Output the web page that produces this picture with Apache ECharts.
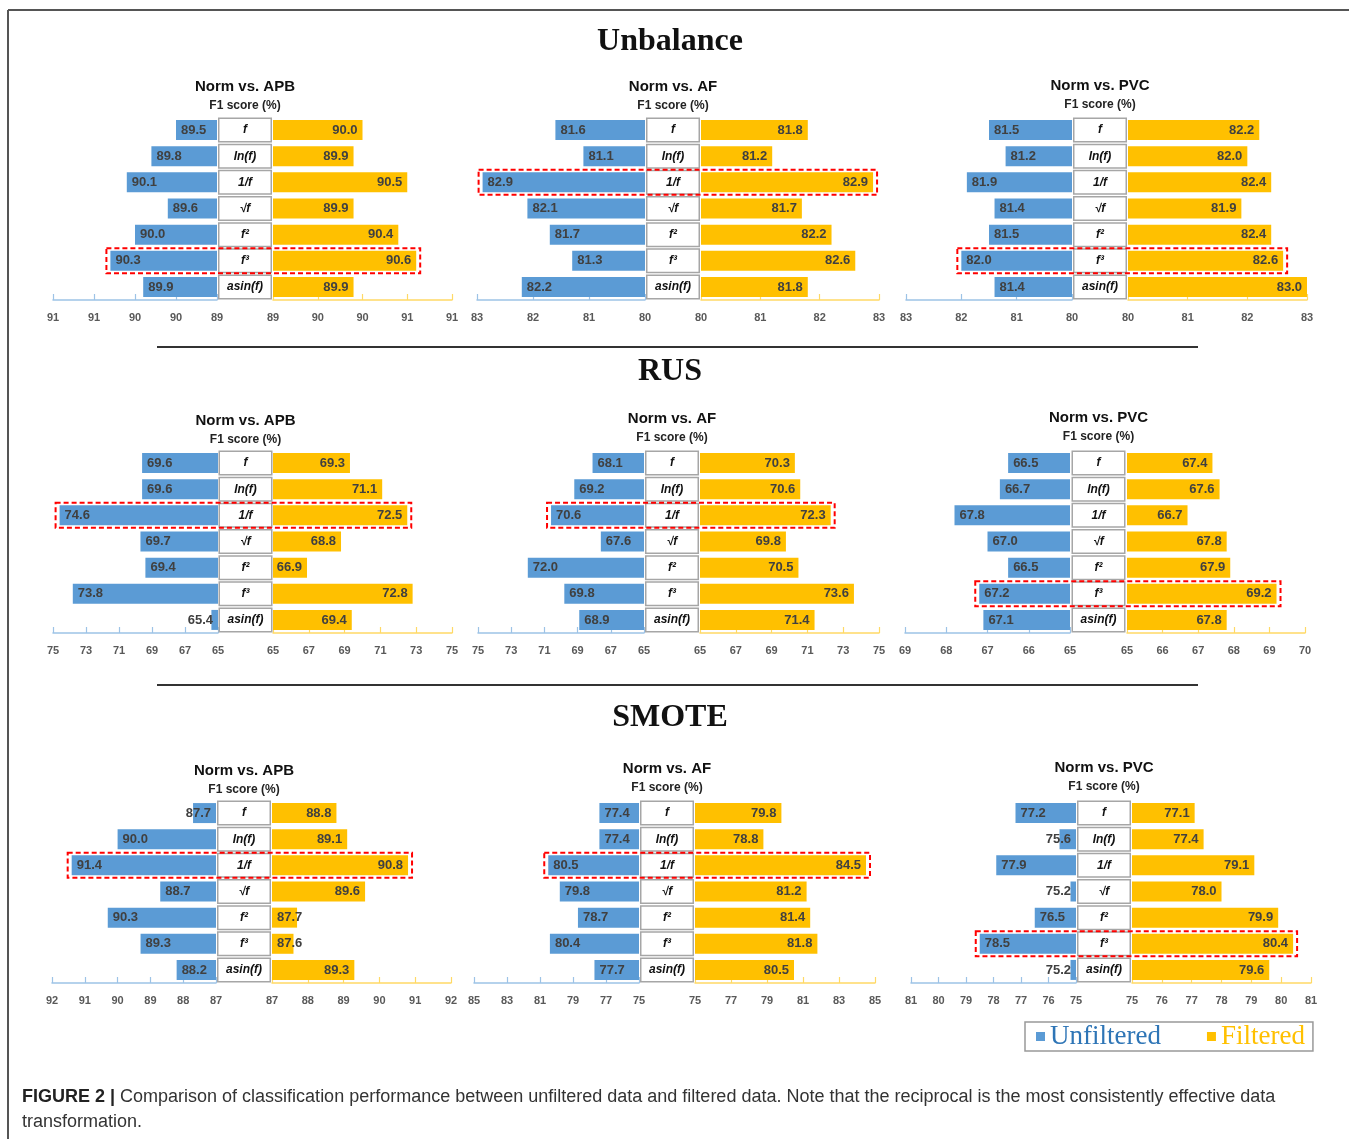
<!DOCTYPE html>
<html>
<head>
<meta charset="utf-8">
<title>Unfiltered vs Filtered F1 score</title>
<script src="https://cdn.jsdelivr.net/npm/echarts@6/dist/echarts.min.js"></script>
<style>
  html, body { margin: 0; padding: 0; background: #fff; }
  #chart { width: 1349px; height: 1139px; }
</style>
</head>
<body>
<div id="chart"></div>
<script>
// categories, top to bottom
const categories = ['f', 'ln(f)', '1/f', '√f', 'f²', 'f³', 'asin(f)'];
const panelTitles = ['Norm vs. APB', 'Norm vs. AF', 'Norm vs. PVC'];
const sectionTitles = ['Unbalance', 'RUS', 'SMOTE'];

// Unbalance
const unbApbU = [89.5, 89.8, 90.1, 89.6, 90.0, 90.3, 89.9];
const unbApbF = [90.0, 89.9, 90.5, 89.9, 90.4, 90.6, 89.9];
const unbAfU  = [81.6, 81.1, 82.9, 82.1, 81.7, 81.3, 82.2];
const unbAfF  = [81.8, 81.2, 82.9, 81.7, 82.2, 82.6, 81.8];
const unbPvcU = [81.5, 81.2, 81.9, 81.4, 81.5, 82.0, 81.4];
const unbPvcF = [82.2, 82.0, 82.4, 81.9, 82.4, 82.6, 83.0];
// RUS
const rusApbU = [69.6, 69.6, 74.6, 69.7, 69.4, 73.8, 65.4];
const rusApbF = [69.3, 71.1, 72.5, 68.8, 66.9, 72.8, 69.4];
const rusAfU  = [68.1, 69.2, 70.6, 67.6, 72.0, 69.8, 68.9];
const rusAfF  = [70.3, 70.6, 72.3, 69.8, 70.5, 73.6, 71.4];
const rusPvcU = [66.5, 66.7, 67.8, 67.0, 66.5, 67.2, 67.1];
const rusPvcF = [67.4, 67.6, 66.7, 67.8, 67.9, 69.2, 67.8];
// SMOTE
const smoApbU = [87.7, 90.0, 91.4, 88.7, 90.3, 89.3, 88.2];
const smoApbF = [88.8, 89.1, 90.8, 89.6, 87.7, 87.6, 89.3];
const smoAfU  = [77.4, 77.4, 80.5, 79.8, 78.7, 80.4, 77.7];
const smoAfF  = [79.8, 78.8, 84.5, 81.2, 81.4, 81.8, 80.5];
const smoPvcU = [77.2, 75.6, 77.9, 75.2, 76.5, 78.5, 75.2];
const smoPvcF = [77.1, 77.4, 79.1, 78.0, 79.9, 80.4, 79.6];

// axis ticks [min, max, interval]
const unbAxisL = [[89, 91, 0.5], [80, 83, 1], [80, 83, 1]];
const unbAxisR = [[89, 91, 0.5], [80, 83, 1], [80, 83, 1]];
const rusAxisL = [[65, 75, 2], [65, 75, 2], [65, 69, 1]];
const rusAxisR = [[65, 75, 2], [65, 75, 2], [65, 70, 1]];
const smoAxisL = [[87, 92, 1], [75, 85, 2], [75, 81, 1]];
const smoAxisR = [[87, 92, 1], [75, 85, 2], [75, 81, 1]];

// highlighted (red dashed) row per panel
const unbHighlight = [5, 2, 5];
const rusHighlight = [2, 2, 5];
const smoHighlight = [2, 2, 5];

const sections = [
  { u: [unbApbU, unbAfU, unbPvcU], f: [unbApbF, unbAfF, unbPvcF], axL: unbAxisL, axR: unbAxisR, hl: unbHighlight },
  { u: [rusApbU, rusAfU, rusPvcU], f: [rusApbF, rusAfF, rusPvcF], axL: rusAxisL, axR: rusAxisR, hl: rusHighlight },
  { u: [smoApbU, smoAfU, smoPvcU], f: [smoApbF, smoAfF, smoPvcF], axL: smoAxisL, axR: smoAxisR, hl: smoHighlight }
];

// layout: [leftGridL, leftGridR, rightGridL, rightGridR] per section / column
const colEdges = [
  [[53, 217, 273, 452], [477, 645, 701, 879], [906, 1072, 1128, 1307]],
  [[53, 218, 273, 452], [478, 644, 700, 879], [905, 1070, 1127, 1305]],
  [[52, 216, 272, 451], [474, 639, 695, 875], [911, 1076, 1132, 1311]]
];
const axisLineY = [300, 633, 983];
const panelTitleY = [[87, 87, 86], [421, 419, 418], [771, 769, 768]];
const sectionTitleY = [42, 372, 718];
const gridH = 183;

const BLUE = '#5B9BD5';
const GOLD = '#FFC000';
const FONT = 'Liberation Sans';

const chart = echarts.init(document.getElementById('chart'));

let grids = [], xAxes = [], yAxes = [], series = [], graphics = [];

function labelPos(v, ax, w, side) {
  const px = (v - ax[0]) / (ax[1] - ax[0]) * w;
  const short = px < 34;
  if (side === 'L') return short ? 'insideRight' : 'insideLeft';
  return short ? 'insideLeft' : 'insideRight';
}

function xAxisOf(g, ax, inverse, color) {
  return {
    type: 'value', gridIndex: g, inverse: inverse,
    min: ax[0], max: ax[1], interval: ax[2],
    axisLine: { show: true, lineStyle: { color: color, width: 1.5 } },
    axisTick: { show: true, inside: true, length: 6, lineStyle: { color: color, width: 1.2 } },
    splitLine: { show: false },
    axisLabel: {
      margin: 12, color: '#595959', fontWeight: 'bold', fontSize: 11, fontFamily: FONT,
      formatter: v => String(Math.round(v))
    }
  };
}

sections.forEach((sec, s) => {
  for (let c = 0; c < 3; c++) {
    const p = s * 3 + c;
    const [lL, lR, rL, rR] = colEdges[s][c];
    const top = axisLineY[s] - gridH;
    const gL = 2 * p, gR = 2 * p + 1;
    grids.push({ left: lL, top: top, width: lR - lL, height: gridH });
    grids.push({ left: rL, top: top, width: rR - rL, height: gridH });

    xAxes.push(xAxisOf(gL, sec.axL[c], true, '#9DC3E6'));
    xAxes.push(xAxisOf(gR, sec.axR[c], false, '#FFD966'));

    yAxes.push({
      type: 'category', gridIndex: gL, data: categories, inverse: true,
      axisLine: { show: false }, axisTick: { show: false }, axisLabel: { show: false }
    });
    yAxes.push({
      type: 'category', gridIndex: gR, data: categories, inverse: true,
      axisLine: { show: false }, axisTick: { show: false },
      axisLabel: {
        show: true, interval: 0, align: 'center', margin: (rL - lR) / 2,
        width: 51, height: 22, lineHeight: 22, padding: 0,
        backgroundColor: '#fff', borderColor: '#A6A6A6', borderWidth: 1.5,
        fontStyle: 'italic', fontWeight: 'bold', fontSize: 12, color: '#111', fontFamily: FONT
      }
    });

    const labelBase = {
      show: true, fontWeight: 'bold', fontSize: 13, color: '#404040', fontFamily: FONT,
      formatter: d => d.value.toFixed(1)
    };
    series.push({
      name: 'Unfiltered', type: 'bar', xAxisIndex: gL, yAxisIndex: gL, barWidth: 20,
      itemStyle: { color: BLUE }, label: labelBase, silent: true,
      data: sec.u[c].map(v => ({ value: v, label: { position: labelPos(v, sec.axL[c], lR - lL, 'L') } }))
    });
    series.push({
      name: 'Filtered', type: 'bar', xAxisIndex: gR, yAxisIndex: gR, barWidth: 20,
      itemStyle: { color: GOLD }, label: labelBase, silent: true,
      data: sec.f[c].map(v => ({ value: v, label: { position: labelPos(v, sec.axR[c], rR - rL, 'R') } }))
    });

    // panel titles
    const cx = (lR + rL) / 2;
    graphics.push({
      type: 'text', id: 'pt' + p, x: cx, y: panelTitleY[s][c],
      style: { text: panelTitles[c], font: 'bold 15px ' + FONT, fill: '#111', textAlign: 'center', textVerticalAlign: 'middle' }
    });
    graphics.push({
      type: 'text', id: 'ps' + p, x: cx, y: panelTitleY[s][c] + 19,
      style: { text: 'F1 score (%)', font: 'bold 12px ' + FONT, fill: '#222', textAlign: 'center', textVerticalAlign: 'middle' }
    });
  }
  graphics.push({
    type: 'text', id: 'st' + s, x: 670, y: sectionTitleY[s],
    style: { text: sectionTitles[s], font: 'bold 32px "Liberation Serif"', fill: '#111', textAlign: 'center', textVerticalAlign: 'middle' }
  });
});

// frame + separators
graphics.push({ type: 'line', id: 'frameTop', shape: { x1: 8, y1: 10, x2: 1349, y2: 10 }, style: { stroke: '#555', lineWidth: 2 } });
graphics.push({ type: 'line', id: 'frameLeft', shape: { x1: 8, y1: 10, x2: 8, y2: 1139 }, style: { stroke: '#555', lineWidth: 2 } });
graphics.push({ type: 'line', id: 'sep1', shape: { x1: 157, y1: 347, x2: 1198, y2: 347 }, style: { stroke: '#333', lineWidth: 2 } });
graphics.push({ type: 'line', id: 'sep2', shape: { x1: 157, y1: 685, x2: 1198, y2: 685 }, style: { stroke: '#333', lineWidth: 2 } });

// caption
graphics.push({
  type: 'text', id: 'cap1', x: 22, y: 1097,
  style: {
    text: '{b|FIGURE 2 |} Comparison of classification performance between unfiltered data and filtered data. Note that the reciprocal is the most consistently effective data',
    font: '18px ' + FONT, fill: '#333', textVerticalAlign: 'middle',
    rich: { b: { fontWeight: 'bold', fontSize: 18, fontFamily: FONT, fill: '#222' } }
  }
});
graphics.push({
  type: 'text', id: 'cap2', x: 22, y: 1122,
  style: { text: 'transformation.', font: '18px ' + FONT, fill: '#333', textVerticalAlign: 'middle' }
});

chart.setOption({
  animation: false,
  grid: grids,
  xAxis: xAxes,
  yAxis: yAxes,
  series: series,
  legend: {
    left: 1025, top: 1022, orient: 'horizontal', selectedMode: false,
    icon: 'rect', itemWidth: 9, itemHeight: 9, itemGap: 46,
    padding: [1, 8, 1, 11], borderColor: '#999', borderWidth: 1.5, backgroundColor: '#fff',
    textStyle: { fontFamily: 'Liberation Serif', fontSize: 27 },
    data: [
      { name: 'Unfiltered', textStyle: { color: '#2E75B6' } },
      { name: 'Filtered', textStyle: { color: '#FFC000' } }
    ]
  },
  graphic: graphics
});

// red dashed boxes around the highlighted rows, placed through the axes
const boxes = [];
sections.forEach((sec, s) => {
  for (let c = 0; c < 3; c++) {
    const p = s * 3 + c;
    const k = sec.hl[c];
    const a = chart.convertToPixel({ gridIndex: 2 * p }, [sec.u[c][k], categories[k]]);
    const b = chart.convertToPixel({ gridIndex: 2 * p + 1 }, [sec.f[c][k], categories[k]]);
    const x0 = a[0] - 4, x1 = b[0] + 4;
    boxes.push({
      type: 'rect', id: 'hl' + p, z: 100,
      shape: { x: x0, y: a[1] - 12.5, width: x1 - x0, height: 25 },
      style: { fill: 'none', stroke: '#FF0000', lineWidth: 2, lineDash: [5, 3] }
    });
  }
});
chart.setOption({ graphic: graphics.concat(boxes) });
</script>
</body>
</html>
